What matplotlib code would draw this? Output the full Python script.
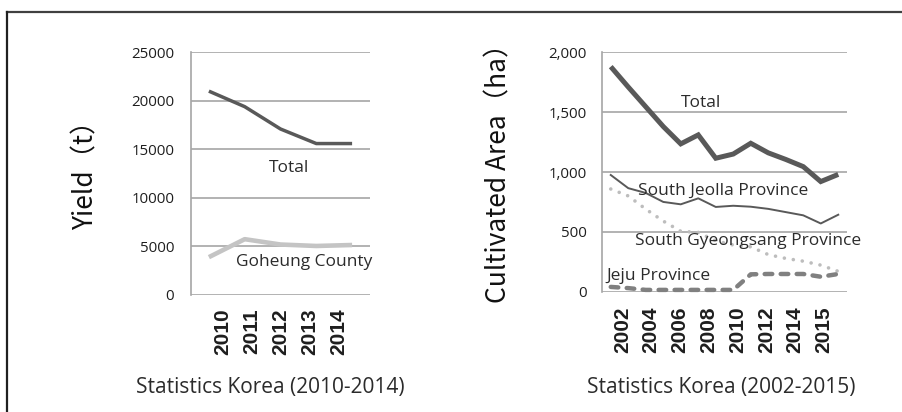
import numpy as np
import matplotlib
matplotlib.use("Agg")
import matplotlib.pyplot as plt
from matplotlib.lines import Line2D
from matplotlib.ticker import FuncFormatter

# --- data ---------------------------------------------------------------
yield_years = ["2010", "2011", "2012", "2013", "2014"]
yield_total = [21000, 19400, 17100, 15600, 15600]
yield_goheung = [3900, 5750, 5200, 5050, 5150]

area_years = list(range(2002, 2016))
area_tick_labels = ["2002", "2004", "2006", "2008", "2010", "2012", "2014", "2015"]
area_total = [1880, 1710, 1545, 1380, 1235, 1310, 1115, 1150, 1240, 1160, 1105, 1045, 920, 980]
area_jeolla = [975, 865, 825, 750, 730, 780, 708, 718, 710, 692, 665, 638, 570, 643]
area_gyeongsang = [858, 800, 690, 590, 505, 495, 425, 390, 375, 310, 278, 255, 222, 170]
area_jeju = [40, 30, 15, 15, 15, 15, 15, 15, 145, 148, 148, 148, 125, 148]

W, H = 903, 412
fig = plt.figure(figsize=(W / 100, H / 100), dpi=100)
fig.patch.set_facecolor("white")

TXT = "#2b2b2b"
GRID = "#a6a6a6"
plt.rcParams["font.family"] = ["Open Sans", "DejaVu Sans"]


def rect(x0, x1, ytop, ybot):
    return [x0 / W, 1 - ybot / H, (x1 - x0) / W, (ybot - ytop) / H]


def style(ax, ymax, step, pad_y, pad_x):
    ax.set_ylim(0, ymax)
    ax.set_yticks(np.arange(0, ymax + 1, step))
    ax.yaxis.grid(True, color=GRID, lw=1.2)
    ax.set_axisbelow(True)
    for s in ["top", "right", "bottom"]:
        ax.spines[s].set_visible(False)
    ax.spines["left"].set_color(GRID)
    ax.spines["left"].set_linewidth(1.2)
    ax.tick_params(axis="y", length=0, pad=pad_y, labelsize=10.8, labelcolor="#1e1e1e")
    ax.tick_params(axis="x", length=0, pad=pad_x, labelsize=15, labelcolor="#1e1e1e",
                   labelrotation=90)
    for lab in ax.get_xticklabels():
        lab.set_fontfamily("Liberation Sans")
        lab.set_fontweight("bold")


# --- left chart: yield ----------------------------------------------------
ax1 = fig.add_axes(rect(191, 370, 52.3, 295))
x1 = np.arange(len(yield_years))
ax1.plot(x1, yield_total, color="#595959", lw=2.5, solid_capstyle="butt", clip_on=False)
ax1.plot(x1, yield_goheung, color="#c4c4c4", lw=3.3, solid_capstyle="butt", clip_on=False)
ax1.set_xlim(-0.5, len(yield_years) - 0.5)
ax1.set_xticks(np.linspace(0.40, 3.64, len(yield_years)))
ax1.set_xticklabels(yield_years)
style(ax1, 25000, 5000, 12, 9.4)

ax1.text(2.24, 12670, "Total", ha="center", va="baseline", fontsize=12.5, color=TXT)
ax1.text(0.757, 2990, "Goheung County", ha="left", va="baseline", fontsize=12.5, color=TXT)
ax1.set_ylabel("Yield（t）", fontsize=19, color="#111111",
               family=["Noto Sans CJK KR", "DejaVu Sans"])
ax1.yaxis.set_label_coords((100 - 191) / 179, 0.52)

# --- right chart: cultivated area -------------------------------------------
ax2 = fig.add_axes(rect(602, 847, 52.3, 291.7))
x2 = np.arange(len(area_years))
ax2.plot(x2, area_total, color="#595959", lw=3.6, solid_capstyle="butt",
         solid_joinstyle="miter", clip_on=False)
ax2.plot(x2, area_jeolla, color="#595959", lw=1.4, clip_on=False)
ax2.plot(x2, area_gyeongsang, color="#bdbdbd", lw=2.6, dashes=(0.01, 2.5),
         dash_capstyle="round", clip_on=False)
ax2.plot(x2, area_jeju, color="#808080", lw=3.2, dashes=(1.7, 1.9),
         dash_capstyle="round", clip_on=False)
ax2.set_xlim(-0.5, len(area_years) - 0.5)
ax2.set_xticks(np.linspace(0.66, 12.19, len(area_tick_labels)))
ax2.set_xticklabels(area_tick_labels)
style(ax2, 2000, 500, 11, 10.8)
ax2.yaxis.set_major_formatter(FuncFormatter(lambda v, p: f"{int(v):,}"))

ax2.text(5.16, 1547, "Total", ha="center", va="baseline", fontsize=12.5, color=TXT)
ax2.text(1.557, 812, "South Jeolla Province", ha="left", va="baseline", fontsize=12.5, color=TXT)
ax2.text(1.386, 386, "South Gyeongsang Province", ha="left", va="baseline", fontsize=12.5, color=TXT)
ax2.text(-0.27, 94, "Jeju Province", ha="left", va="baseline", fontsize=12.5, color=TXT)
ax2.set_ylabel("Cultivated Area（ha）", fontsize=19, color="#111111",
               family=["Noto Sans CJK KR", "DejaVu Sans"])
ax2.yaxis.set_label_coords((512.5 - 602) / 245, 0.52)

# --- sources ---------------------------------------------------------------
fig.text(270 / W, 1 - 388 / H, "Statistics Korea (2010-2014)", ha="center", va="center",
         fontsize=15, color=TXT)
fig.text(721.7 / W, 1 - 388 / H, "Statistics Korea (2002-2015)", ha="center", va="center",
         fontsize=15, color=TXT)

# --- outer frame (top and left only) ----------------------------------------
fig.add_artist(Line2D([7 / W, 1], [1 - 12 / H, 1 - 12 / H], color="#404040", lw=1.6))
fig.add_artist(Line2D([7 / W, 7 / W], [0, 1 - 12 / H], color="#202020", lw=1.6))

fig.savefig("out.png", dpi=100, facecolor="white")
